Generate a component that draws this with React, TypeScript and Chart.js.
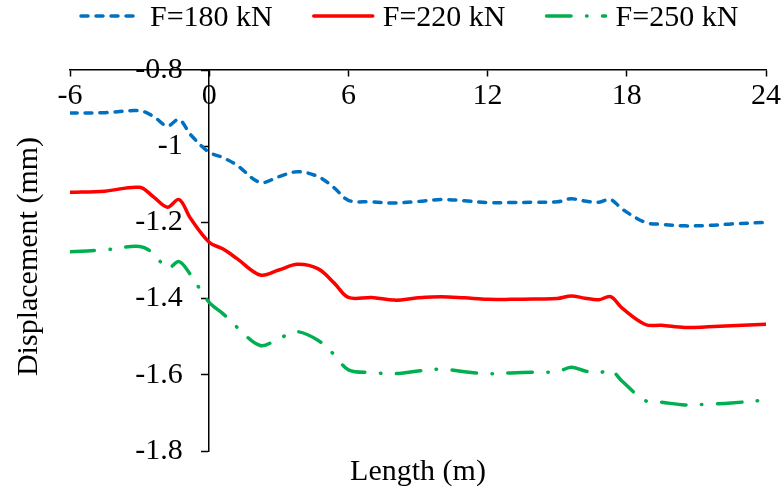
import { useEffect, useRef } from 'react';
import { Chart, registerables } from 'chart.js';

Chart.register(...registerables);

const FONT = "'Liberation Serif', 'Times New Roman', serif";

const LENGTH_M = [-6, -4.5, -3, -2.4, -1.8, -1.3, -0.8, 0, 0.6, 1.2, 2.2, 3, 3.8, 4.7, 5.4, 6, 7, 8, 9, 10, 11, 12, 13, 14, 15, 15.6, 16.2, 16.8, 17.3, 17.8, 18.8, 19.5, 20.5, 21.5, 22.5, 24];
const DISP_180 = [-0.913, -0.912, -0.907, -0.922, -0.947, -0.93, -0.97, -1.016, -1.03, -1.05, -1.095, -1.08, -1.067, -1.08, -1.11, -1.142, -1.146, -1.149, -1.145, -1.14, -1.143, -1.148, -1.148, -1.147, -1.146, -1.138, -1.144, -1.147, -1.14, -1.165, -1.2, -1.205, -1.209, -1.208, -1.204, -1.2];
const DISP_220 = [-1.121, -1.118, -1.108, -1.133, -1.16, -1.14, -1.19, -1.252, -1.27, -1.295, -1.338, -1.325, -1.31, -1.322, -1.36, -1.397, -1.397, -1.404, -1.398, -1.395, -1.398, -1.402, -1.402, -1.401, -1.4, -1.393, -1.399, -1.403, -1.395, -1.425, -1.468, -1.47, -1.476, -1.474, -1.471, -1.467];
const DISP_250 = [-1.277, -1.272, -1.263, -1.282, -1.321, -1.303, -1.338, -1.41, -1.44, -1.475, -1.523, -1.505, -1.487, -1.51, -1.548, -1.587, -1.594, -1.597, -1.59, -1.585, -1.592, -1.597, -1.595, -1.593, -1.592, -1.58, -1.59, -1.595, -1.587, -1.617, -1.668, -1.672, -1.679, -1.677, -1.674, -1.666];

const SERIES_LABELS = ['F=180 kN', 'F=220 kN', 'F=250 kN'];
const X_TICK_LABELS = ['-6', '0', '6', '12', '18', '24'];
const Y_TICK_LABELS = ['-1.8', '-1.6', '-1.4', '-1.2', '-1', '-0.8'];
const X_TITLE = 'Length (m)';
const Y_TITLE = 'Displacement (mm)';

const toPoints = (ys: number[]) => LENGTH_M.map((x, i) => ({ x, y: ys[i] }));

const legendAndTitles = {
  id: 'legendAndTitles',
  afterDraw(chart: any) {
    const ctx: CanvasRenderingContext2D = chart.ctx;
    ctx.save();
    ctx.font = `30px ${FONT}`;
    ctx.fillStyle = '#000';
    ctx.textAlign = 'left';
    ctx.textBaseline = 'alphabetic';
    let x = 81;
    chart.data.datasets.forEach((ds: any) => {
      ctx.save();
      ctx.strokeStyle = ds.borderColor;
      ctx.lineWidth = ds.borderWidth;
      ctx.lineCap = 'round';
      ctx.setLineDash(ds.borderDash || []);
      ctx.beginPath();
      ctx.moveTo(x, 16);
      ctx.lineTo(x + 59, 16);
      ctx.stroke();
      ctx.restore();
      const tx = x + 69;
      ctx.fillText(ds.label, tx, 26);
      x = tx + ctx.measureText(ds.label).width + 41;
    });
    const area = chart.chartArea;
    ctx.textAlign = 'center';
    ctx.fillText(X_TITLE, (area.left + area.right) / 2, 480);
    ctx.translate(37, 256.5);
    ctx.rotate(-Math.PI / 2);
    ctx.fillText(Y_TITLE, 0, 0);
    ctx.restore();
  },
};

export default function App() {
  const ref = useRef<HTMLCanvasElement>(null);
  useEffect(() => {
    if (!ref.current) return;
    const chart = new Chart(ref.current, {
      type: 'line',
      data: {
        datasets: [
          {
            label: SERIES_LABELS[0],
            data: toPoints(DISP_180),
            borderColor: '#0070C0',
            borderWidth: 3.5,
            borderDash: [7, 8],
          },
          {
            label: SERIES_LABELS[1],
            data: toPoints(DISP_220),
            borderColor: '#FF0000',
            borderWidth: 3.5,
          },
          {
            label: SERIES_LABELS[2],
            data: toPoints(DISP_250),
            borderColor: '#00B050',
            borderWidth: 3.5,
            borderDash: [24.5, 15.5, 0.5, 15.5],
          },
        ],
      },
      options: {
        animation: false,
        responsive: true,
        maintainAspectRatio: false,
        layout: { padding: { left: 70, right: 15, top: 70, bottom: 41 } },
        elements: {
          point: { radius: 0, hoverRadius: 0 },
          line: { borderCapStyle: 'round', borderJoinStyle: 'round', tension: 0.35, fill: false },
        },
        plugins: {
          legend: { display: false },
          tooltip: { enabled: false },
        },
        scales: {
          x: {
            type: 'linear',
            min: -6,
            max: 24,
            position: { y: -0.8 } as any,
            ticks: {
              stepSize: 6,
              autoSkip: false,
              maxRotation: 0,
              padding: 2,
              color: '#000',
              font: { family: FONT, size: 30 },
              callback: (_v: any, i: number) => X_TICK_LABELS[i],
            },
            grid: {
              display: true,
              drawOnChartArea: false,
              drawTicks: true,
              tickLength: 6,
              tickWidth: 1.5,
              tickColor: '#000',
            },
            border: { display: true, color: '#000', width: 1.5 },
          },
          y: {
            type: 'linear',
            min: -1.8,
            max: -0.8,
            position: { x: 0 } as any,
            ticks: { stepSize: 0.2, display: false },
            grid: {
              display: true,
              drawOnChartArea: false,
              drawTicks: true,
              tickLength: 7,
              tickWidth: 1.5,
              tickColor: '#000',
            },
            border: { display: true, color: '#000', width: 1.5 },
          },
          yLabels: {
            type: 'linear',
            axis: 'y',
            min: -1.8,
            max: -0.8,
            position: { x: -1.14 } as any,
            ticks: {
              stepSize: 0.2,
              color: '#000',
              font: { family: FONT, size: 30 },
              callback: (_v: any, i: number) => Y_TICK_LABELS[i],
            },
            grid: { display: false },
            border: { display: false },
          },
        },
      } as any,
      plugins: [legendAndTitles],
    });
    return () => chart.destroy();
  }, []);
  return (
    <div style={{ position: 'fixed', left: 0, top: 0, width: 783, height: 492, background: '#fff' }}>
      <canvas ref={ref} />
    </div>
  );
}
